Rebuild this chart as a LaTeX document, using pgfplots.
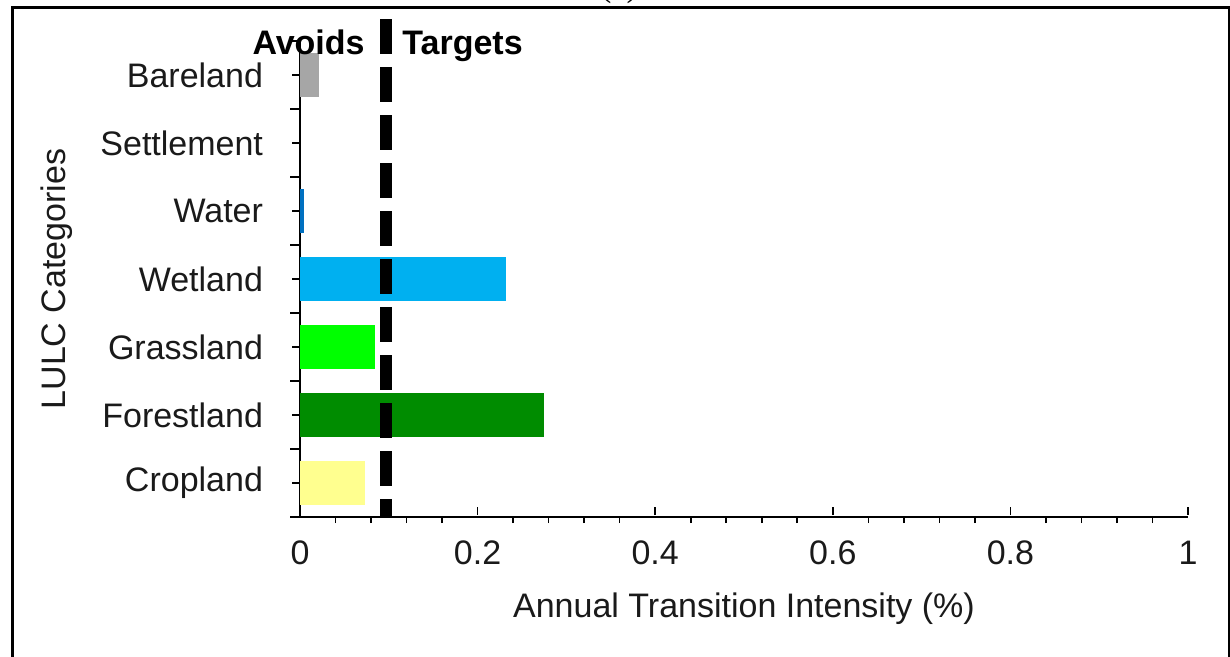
\documentclass[border=0pt]{standalone}
\usepackage{fontspec}
\setmainfont{Liberation Sans}
\newfontfamily\titlefont{Liberation Serif}
\usepackage{pgfplots}
\pgfplotsset{compat=1.18}
\definecolor{cbare}{HTML}{A6A6A6}
\definecolor{cwater}{HTML}{0070C0}
\definecolor{cwet}{HTML}{00B0F0}
\definecolor{cgrass}{HTML}{00FF00}
\definecolor{cforest}{HTML}{008C00}
\definecolor{ccrop}{HTML}{FFFF8F}
\definecolor{ctext}{HTML}{1A1A1A}
\begin{document}
\begin{tikzpicture}
\useasboundingbox (0,0) rectangle (615bp,328.5bp);
\clip (0,0) rectangle (615bp,328.5bp);
\fill[white] (0,0) rectangle (615bp,328.5bp);
\draw[line width=1.5bp] (6bp,-20bp) -- (6bp,324.5bp) -- (614.5bp,324.5bp) -- (614.5bp,-20bp);
\node[anchor=base, inner sep=0pt, font=\titlefont\fontsize{17bp}{20bp}\selectfont] at (309.5bp,330bp) {(c)};
\begin{axis}[
  at={(150bp,70bp)}, anchor=south west,
  scale only axis, width=444bp, height=238bp,
  xmin=0, xmax=1, ymin=-0.5, ymax=6.5,
  clip=false,
  axis x line*=bottom, axis y line*=left,
  axis line style={line width=1bp, -},
  font=\fontsize{17bp}{20bp}\selectfont,
  bar width=22bp,
  xtick={0,0.2,0.4,0.6,0.8,1},
  xticklabels={0,0.2,0.4,0.6,0.8,1},
  minor x tick num=4,
  ytick={0,1,2,3,4,5,6},
  yticklabels={Cropland,Forestland,Grassland,Wetland,Water,Settlement,Bareland},
  extra y ticks={-0.5,0.5,1.5,2.5,3.5,4.5,5.5,6.5},
  extra y tick labels={},
  extra y tick style={major tick length=5bp},
  tick align=outside,
  major tick length=4bp, minor tick length=3bp,
  tick style={line width=0.8bp, black},
  major x tick style={yshift=5bp},
  xticklabel style={anchor=center, yshift=-14bp, text=ctext},
  yticklabel style={anchor=east, xshift=-11bp, text=ctext},
  xlabel={Annual Transition Intensity (\%)},
  ylabel={LULC Categories},
  xlabel style={at={(axis description cs:0.5,-0.193)}, anchor=center, text=ctext},
  ylabel style={at={(axis description cs:-0.2736,0.5)}, anchor=center, text=ctext},
]
\addplot[xbar, bar shift=0pt, fill=ccrop, draw=none] coordinates {(0.073,0)};
\addplot[xbar, bar shift=0pt, fill=cforest, draw=none] coordinates {(0.275,1)};
\addplot[xbar, bar shift=0pt, fill=cgrass, draw=none] coordinates {(0.085,2)};
\addplot[xbar, bar shift=0pt, fill=cwet, draw=none] coordinates {(0.232,3)};
\addplot[xbar, bar shift=0pt, fill=cwater, draw=none] coordinates {(0.004,4)};
\addplot[xbar, bar shift=0pt, fill=cbare, draw=none] coordinates {(0.021,6)};
\addplot[black, line width=6bp, dash pattern=on 17.5bp off 6.5bp, mark=none] coordinates {(0.097,6.82) (0.097,-0.5)};
\node[anchor=base east, inner sep=0pt, font=\bfseries\fontsize{17bp}{20bp}\selectfont] at (axis cs:0.0732,6.30) {Avoids};
\node[anchor=base west, inner sep=0pt, font=\bfseries\fontsize{17bp}{20bp}\selectfont] at (axis cs:0.1149,6.30) {Targets};
\end{axis}
\end{tikzpicture}
\end{document}
